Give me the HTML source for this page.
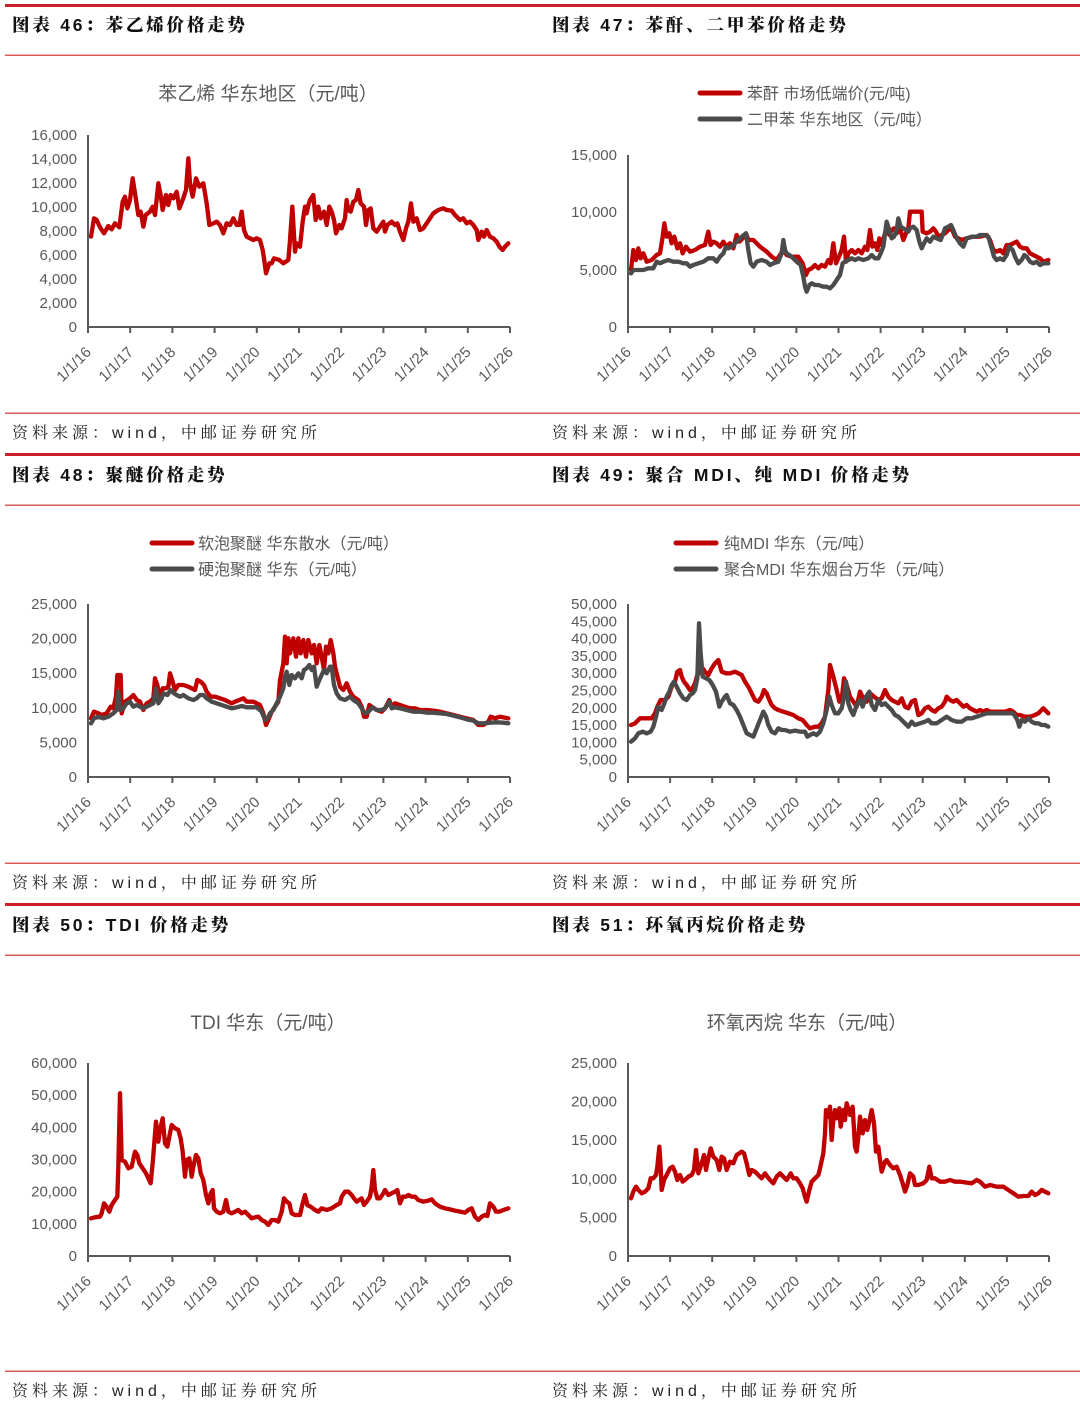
<!DOCTYPE html>
<html><head><meta charset="utf-8"><style>
html,body{margin:0;padding:0;background:#fff;}
svg{display:block;}
.h{font-family:"Liberation Sans","Noto Serif CJK SC",serif;font-weight:900;font-size:17.5px;letter-spacing:2.8px;fill:#111;}
.s{font-family:"Liberation Sans","Noto Serif CJK SC",serif;font-size:16px;letter-spacing:4px;fill:#222;}
.t{font-family:"Liberation Sans","Noto Sans CJK SC",sans-serif;font-size:19px;fill:#595959;}
.lg{font-family:"Liberation Sans","Noto Sans CJK SC",sans-serif;font-size:16px;fill:#595959;}
.yl{font-family:"Liberation Sans",sans-serif;font-size:15px;fill:#595959;text-anchor:end;}
.xl{font-family:"Liberation Sans",sans-serif;font-size:15px;fill:#595959;text-anchor:end;}
.ax{stroke:#595959;stroke-width:2;fill:none;}
.r{fill:none;stroke:#C00000;stroke-width:13;stroke-linejoin:round;stroke-linecap:round;}
.g{fill:none;stroke:#4B4B4B;stroke-width:13;stroke-linejoin:round;stroke-linecap:round;}
</style></head><body>
<svg width="1080" height="1412" viewBox="0 0 1080 1412" xmlns="http://www.w3.org/2000/svg">
<g>
<rect x="5" y="4" width="1075" height="3" fill="#CC1F2A"/>
<rect x="5" y="54.5" width="1075" height="1.5" fill="#D65C5C"/>
<rect x="5" y="412.5" width="1075" height="1.5" fill="#D65C5C"/>
<rect x="5" y="453" width="1075" height="3" fill="#CC1F2A"/>
<rect x="5" y="504.5" width="1075" height="1.5" fill="#D65C5C"/>
<rect x="5" y="862.5" width="1075" height="1.5" fill="#D65C5C"/>
<rect x="5" y="903" width="1075" height="3" fill="#CC1F2A"/>
<rect x="5" y="954.5" width="1075" height="1.5" fill="#D65C5C"/>
<rect x="5" y="1370.5" width="1075" height="1.5" fill="#D65C5C"/>
</g>
<text class="h" x="12" y="31">图表 46：苯乙烯价格走势</text>
<text class="h" x="552" y="31">图表 47：苯酐、二甲苯价格走势</text>
<text class="h" x="12" y="481">图表 48：聚醚价格走势</text>
<text class="h" x="552" y="481">图表 49：聚合 MDI、纯 MDI 价格走势</text>
<text class="h" x="12" y="931">图表 50：TDI 价格走势</text>
<text class="h" x="552" y="931">图表 51：环氧丙烷价格走势</text>
<text class="s" x="12" y="438">资料来源：wind，中邮证券研究所</text>
<text class="s" x="552" y="438">资料来源：wind，中邮证券研究所</text>
<text class="s" x="12" y="888">资料来源：wind，中邮证券研究所</text>
<text class="s" x="552" y="888">资料来源：wind，中邮证券研究所</text>
<text class="s" x="12" y="1396">资料来源：wind，中邮证券研究所</text>
<text class="s" x="552" y="1396">资料来源：wind，中邮证券研究所</text>

<!-- Chart 1 -->
<text class="t" x="268" y="100" text-anchor="middle">苯乙烯 华东地区（元/吨）</text>
<g class="yl">
<text x="77" y="332">0</text><text x="77" y="308">2,000</text><text x="77" y="284">4,000</text><text x="77" y="260">6,000</text><text x="77" y="236">8,000</text><text x="77" y="212">10,000</text><text x="77" y="188">12,000</text><text x="77" y="164">14,000</text><text x="77" y="140">16,000</text>
</g>
<g transform="translate(80,140) scale(0.333333)">
<polyline class="r" points="33,290 42,235 50,240 60,262 72,280 85,258 95,268 105,250 118,262 128,185 135,170 142,205 150,180 158,115 165,160 175,225 182,215 190,260 197,225 210,215 218,200 225,225 235,130 242,165 248,210 258,165 265,195 272,165 280,175 290,155 298,205 308,180 318,150 325,55 330,130 338,170 348,115 358,140 370,130 380,190 388,255 400,250 410,245 420,255 430,280 440,250 450,255 460,235 470,255 478,255 485,215 492,270 500,290 510,295 520,300 530,295 540,300 548,330 552,355 558,400 568,370 575,370 582,355 598,360 610,370 625,360 630,300 637,200 645,335 650,310 660,320 668,245 675,200 680,220 685,195 690,180 700,165 707,240 715,200 722,235 732,215 740,255 748,200 755,215 762,240 768,280 778,255 785,265 795,235 800,180 805,210 812,215 820,185 828,180 835,150 842,190 852,200 858,255 865,210 872,205 880,265 890,275 900,260 910,245 915,275 922,255 935,245 945,255 952,250 960,275 970,300 978,265 985,245 993,190 1000,245 1010,235 1020,270 1030,265 1040,250 1050,235 1060,220 1075,210 1090,205 1100,210 1115,212 1125,225 1140,240 1150,235 1160,250 1170,245 1180,255 1190,270 1195,300 1205,275 1212,290 1220,270 1230,290 1240,295 1250,305 1258,320 1268,330 1275,320 1285,310"/>
</g>
<path class="ax" d="M88,135 V327 H510 M88,327v6 M130.2,327v6 M172.4,327v6 M214.6,327v6 M256.8,327v6 M299,327v6 M341.2,327v6 M383.4,327v6 M425.6,327v6 M467.8,327v6 M510,327v6"/>
<g class="xl">
<text transform="translate(92,353) rotate(-45)">1/1/16</text>
<text transform="translate(134.2,353) rotate(-45)">1/1/17</text>
<text transform="translate(176.4,353) rotate(-45)">1/1/18</text>
<text transform="translate(218.6,353) rotate(-45)">1/1/19</text>
<text transform="translate(260.8,353) rotate(-45)">1/1/20</text>
<text transform="translate(303,353) rotate(-45)">1/1/21</text>
<text transform="translate(345.2,353) rotate(-45)">1/1/22</text>
<text transform="translate(387.4,353) rotate(-45)">1/1/23</text>
<text transform="translate(429.6,353) rotate(-45)">1/1/24</text>
<text transform="translate(471.8,353) rotate(-45)">1/1/25</text>
<text transform="translate(514,353) rotate(-45)">1/1/26</text>
</g>

<!-- Chart 2 -->
<line x1="700" y1="93" x2="740" y2="93" stroke="#C00000" stroke-width="5" stroke-linecap="round"/>
<line x1="700" y1="119" x2="740" y2="119" stroke="#4B4B4B" stroke-width="5" stroke-linecap="round"/>
<text class="lg" x="747" y="99">苯酐 市场低端价(元/吨)</text>
<text class="lg" x="747" y="125">二甲苯 华东地区（元/吨）</text>
<g class="yl">
<text x="617" y="332">0</text><text x="617" y="275">5,000</text><text x="617" y="217">10,000</text><text x="617" y="160">15,000</text>
</g>
<g transform="translate(620,200) scale(0.333333)">
<polyline class="r" points="33,210 40,150 48,180 55,145 62,175 70,160 80,185 95,180 110,165 120,160 128,110 133,70 140,110 148,100 155,130 163,110 172,145 180,130 188,160 198,140 210,155 225,150 240,140 255,135 265,95 272,135 280,125 290,130 300,140 310,125 318,140 330,130 340,145 350,105 358,125 368,115 378,100 385,120 400,120 420,140 440,155 455,170 470,180 490,150 500,165 515,170 535,170 548,190 558,225 565,210 575,205 585,195 595,205 605,195 615,200 625,180 632,190 640,130 648,190 655,175 665,150 672,110 678,185 685,160 695,150 705,160 715,150 725,160 735,140 742,150 750,90 757,140 765,130 772,150 778,115 785,135 795,100 800,80 808,105 815,90 822,85 830,100 840,85 850,120 858,100 865,85 870,35 905,35 908,95 920,100 930,95 940,85 948,95 955,110 965,105 975,100 985,90 995,85 1005,110 1015,115 1025,120 1040,115 1060,110 1080,110 1100,105 1110,120 1120,150 1130,155 1140,150 1150,160 1160,135 1170,135 1180,130 1190,125 1200,140 1210,145 1220,145 1230,160 1240,165 1250,170 1260,175 1270,185 1285,180"/>
<polyline class="g" points="33,220 40,210 55,210 70,210 85,205 100,205 110,185 120,190 130,185 145,180 160,185 175,185 190,190 200,190 210,200 220,195 235,190 250,185 265,175 280,175 290,185 300,170 310,160 318,140 325,145 335,140 345,130 355,120 365,110 378,100 385,150 392,190 400,200 410,185 425,180 440,185 450,195 460,190 475,185 485,160 490,120 495,150 500,160 515,170 530,185 542,195 550,230 555,260 560,275 568,255 575,250 585,255 595,255 610,260 620,260 630,265 640,255 650,240 660,225 668,190 675,185 685,180 695,175 705,180 715,175 730,180 745,175 755,165 765,175 775,175 782,160 790,140 800,65 808,90 815,115 822,110 830,90 835,55 842,80 850,85 858,90 865,95 870,85 880,80 890,90 898,125 905,145 912,130 920,115 930,125 940,110 950,115 962,120 968,105 975,85 985,80 993,75 1000,90 1010,115 1020,130 1030,140 1040,115 1055,110 1070,110 1080,105 1095,105 1105,110 1115,145 1122,170 1130,180 1140,175 1150,180 1160,165 1168,140 1178,150 1185,170 1195,190 1205,180 1213,165 1220,170 1230,185 1240,190 1250,185 1260,195 1270,190 1285,190"/>
</g>
<path class="ax" d="M628,155 V327 H1049 M628,327v6 M670.1,327v6 M712.2,327v6 M754.3,327v6 M796.4,327v6 M838.5,327v6 M880.6,327v6 M922.7,327v6 M964.8,327v6 M1006.9,327v6 M1049,327v6"/>
<g class="xl">
<text transform="translate(632,353) rotate(-45)">1/1/16</text>
<text transform="translate(674.1,353) rotate(-45)">1/1/17</text>
<text transform="translate(716.2,353) rotate(-45)">1/1/18</text>
<text transform="translate(758.3,353) rotate(-45)">1/1/19</text>
<text transform="translate(800.4,353) rotate(-45)">1/1/20</text>
<text transform="translate(842.5,353) rotate(-45)">1/1/21</text>
<text transform="translate(884.6,353) rotate(-45)">1/1/22</text>
<text transform="translate(926.7,353) rotate(-45)">1/1/23</text>
<text transform="translate(968.8,353) rotate(-45)">1/1/24</text>
<text transform="translate(1010.9,353) rotate(-45)">1/1/25</text>
<text transform="translate(1053,353) rotate(-45)">1/1/26</text>
</g>

<!-- Chart 3 -->
<line x1="152" y1="543" x2="192" y2="543" stroke="#C00000" stroke-width="5" stroke-linecap="round"/>
<line x1="152" y1="569" x2="192" y2="569" stroke="#4B4B4B" stroke-width="5" stroke-linecap="round"/>
<text class="lg" x="198" y="549">软泡聚醚 华东散水（元/吨）</text>
<text class="lg" x="198" y="575">硬泡聚醚 华东（元/吨）</text>
<g class="yl">
<text x="77" y="782">0</text><text x="77" y="747.4">5,000</text><text x="77" y="712.8">10,000</text><text x="77" y="678.2">15,000</text><text x="77" y="643.6">20,000</text><text x="77" y="609">25,000</text>
</g>
<g transform="translate(80,620) scale(0.333333)">
<polyline class="r" points="33,295 42,275 55,280 65,285 80,280 92,260 100,265 108,230 112,165 122,165 125,280 135,245 150,235 160,225 170,240 180,245 190,270 200,250 210,245 220,235 225,175 232,195 240,240 248,205 258,205 265,200 270,160 278,185 285,210 295,195 310,195 325,200 335,205 345,210 352,180 362,185 372,195 380,215 392,230 405,230 420,235 435,240 445,245 455,250 465,245 478,240 490,235 500,245 510,245 520,245 530,250 540,255 550,280 558,315 565,300 575,275 585,260 595,245 600,180 610,130 615,50 620,130 625,55 630,100 640,55 648,110 655,55 662,100 670,60 678,110 685,60 695,100 702,75 710,130 718,75 725,110 732,150 738,80 745,100 752,60 760,100 765,140 770,160 780,200 790,210 800,190 810,215 820,230 835,240 845,260 852,290 860,290 868,255 875,260 890,270 905,275 915,265 928,240 935,260 945,250 960,255 975,260 990,265 1005,265 1020,270 1040,270 1060,272 1080,275 1100,280 1120,285 1140,290 1160,295 1180,300 1195,315 1210,315 1225,305 1232,290 1245,295 1260,290 1270,292 1285,295"/>
<polyline class="g" points="33,310 42,295 55,290 70,295 85,290 100,280 110,270 115,215 120,270 130,265 140,250 150,245 160,260 170,255 180,260 190,265 200,260 210,255 220,250 228,205 235,250 245,235 250,220 262,225 272,210 282,220 290,225 300,230 310,225 325,235 340,240 350,235 360,225 370,225 380,235 395,245 410,250 425,255 440,260 455,265 470,262 485,258 500,262 515,262 530,262 545,275 555,300 562,295 570,280 580,270 590,250 600,230 610,205 615,170 620,155 628,195 635,165 645,175 655,160 665,175 672,150 680,145 688,135 695,150 702,140 710,200 718,180 725,165 732,150 740,160 750,140 755,140 762,195 770,220 780,235 795,240 810,230 820,240 835,250 845,265 855,280 865,275 878,262 890,270 905,270 915,265 928,245 935,265 945,262 960,265 980,270 1000,275 1020,275 1040,278 1060,278 1080,280 1100,282 1120,287 1140,292 1160,298 1180,302 1195,310 1210,310 1230,308 1250,307 1270,308 1285,310"/>
</g>
<path class="ax" d="M88,604 V777 H510 M88,777v6 M130.2,777v6 M172.4,777v6 M214.6,777v6 M256.8,777v6 M299,777v6 M341.2,777v6 M383.4,777v6 M425.6,777v6 M467.8,777v6 M510,777v6"/>
<g class="xl">
<text transform="translate(92,803) rotate(-45)">1/1/16</text>
<text transform="translate(134.2,803) rotate(-45)">1/1/17</text>
<text transform="translate(176.4,803) rotate(-45)">1/1/18</text>
<text transform="translate(218.6,803) rotate(-45)">1/1/19</text>
<text transform="translate(260.8,803) rotate(-45)">1/1/20</text>
<text transform="translate(303,803) rotate(-45)">1/1/21</text>
<text transform="translate(345.2,803) rotate(-45)">1/1/22</text>
<text transform="translate(387.4,803) rotate(-45)">1/1/23</text>
<text transform="translate(429.6,803) rotate(-45)">1/1/24</text>
<text transform="translate(471.8,803) rotate(-45)">1/1/25</text>
<text transform="translate(514,803) rotate(-45)">1/1/26</text>
</g>

<!-- Chart 4 -->
<line x1="676" y1="543" x2="716" y2="543" stroke="#C00000" stroke-width="5" stroke-linecap="round"/>
<line x1="676" y1="569" x2="716" y2="569" stroke="#4B4B4B" stroke-width="5" stroke-linecap="round"/>
<text class="lg" x="724" y="549">纯MDI 华东（元/吨）</text>
<text class="lg" x="724" y="575">聚合MDI 华东烟台万华（元/吨）</text>
<g class="yl">
<text x="617" y="782">0</text><text x="617" y="764.7">5,000</text><text x="617" y="747.4">10,000</text><text x="617" y="730.1">15,000</text><text x="617" y="712.8">20,000</text><text x="617" y="695.5">25,000</text><text x="617" y="678.2">30,000</text><text x="617" y="660.9">35,000</text><text x="617" y="643.6">40,000</text><text x="617" y="626.3">45,000</text><text x="617" y="609">50,000</text>
</g>
<g transform="translate(620,610) scale(0.333333)">
<polyline class="r" points="33,345 45,340 60,325 80,325 95,325 105,310 112,290 122,270 135,270 145,260 155,230 165,215 172,185 180,180 185,200 192,215 200,225 210,240 218,235 225,220 232,195 240,185 248,175 255,185 265,195 275,175 285,160 295,150 305,185 318,190 330,190 345,185 355,190 365,195 375,215 385,230 395,250 405,270 415,275 425,260 432,240 440,250 448,270 455,285 465,295 475,300 490,305 505,310 520,315 535,325 548,330 560,345 570,355 585,350 595,350 605,340 615,320 625,240 630,165 640,200 650,240 658,275 665,270 672,205 680,225 690,260 700,275 710,290 720,245 730,265 740,275 750,250 762,260 775,270 785,265 795,240 805,260 815,270 825,275 835,280 845,265 855,290 865,295 875,275 885,270 895,315 905,310 915,295 925,290 935,300 945,305 955,295 965,290 975,275 980,260 990,270 1000,275 1010,270 1020,280 1030,290 1040,285 1050,295 1060,300 1070,305 1080,300 1090,305 1100,300 1110,305 1125,305 1140,305 1155,305 1170,300 1180,305 1190,315 1200,315 1215,320 1230,320 1245,315 1255,310 1265,300 1270,295 1280,305 1285,310"/>
<polyline class="g" points="33,395 45,385 55,370 68,365 80,370 92,365 100,350 108,320 115,290 125,300 133,280 140,260 148,245 155,225 162,215 170,230 180,250 190,265 200,270 210,255 218,250 225,240 232,205 237,40 242,130 248,200 258,205 268,210 278,225 288,245 298,290 305,275 315,260 320,255 330,280 340,285 350,300 360,320 370,345 380,370 390,375 400,380 410,355 420,330 430,305 438,320 445,345 455,365 465,370 475,355 485,360 495,360 510,365 525,362 540,365 555,365 562,380 570,375 580,370 590,375 600,365 610,340 620,300 628,260 635,285 645,310 655,310 665,295 672,260 678,215 685,280 692,300 700,315 710,285 720,270 728,290 738,260 748,245 755,285 765,300 775,270 785,285 795,280 805,290 815,300 825,315 835,320 845,330 855,340 865,350 875,335 885,345 900,340 915,335 925,330 935,340 950,340 965,330 980,320 995,330 1010,335 1025,335 1040,325 1055,325 1070,320 1085,315 1100,310 1120,310 1140,310 1160,310 1180,310 1192,330 1198,350 1205,330 1215,335 1225,325 1235,335 1245,340 1255,340 1265,345 1275,345 1285,350"/>
</g>
<path class="ax" d="M628,604 V777 H1049 M628,777v6 M670.1,777v6 M712.2,777v6 M754.3,777v6 M796.4,777v6 M838.5,777v6 M880.6,777v6 M922.7,777v6 M964.8,777v6 M1006.9,777v6 M1049,777v6"/>
<g class="xl">
<text transform="translate(632,803) rotate(-45)">1/1/16</text>
<text transform="translate(674.1,803) rotate(-45)">1/1/17</text>
<text transform="translate(716.2,803) rotate(-45)">1/1/18</text>
<text transform="translate(758.3,803) rotate(-45)">1/1/19</text>
<text transform="translate(800.4,803) rotate(-45)">1/1/20</text>
<text transform="translate(842.5,803) rotate(-45)">1/1/21</text>
<text transform="translate(884.6,803) rotate(-45)">1/1/22</text>
<text transform="translate(926.7,803) rotate(-45)">1/1/23</text>
<text transform="translate(968.8,803) rotate(-45)">1/1/24</text>
<text transform="translate(1010.9,803) rotate(-45)">1/1/25</text>
<text transform="translate(1053,803) rotate(-45)">1/1/26</text>
</g>

<!-- Chart 5 -->
<text class="t" x="268" y="1029" text-anchor="middle">TDI 华东（元/吨）</text>
<g class="yl">
<text x="77" y="1261">0</text><text x="77" y="1228.8">10,000</text><text x="77" y="1196.7">20,000</text><text x="77" y="1164.5">30,000</text><text x="77" y="1132.3">40,000</text><text x="77" y="1100.2">50,000</text><text x="77" y="1068">60,000</text>
</g>
<g transform="translate(80,1080) scale(0.333333)">
<polyline class="r" points="33,415 45,412 60,410 65,400 72,370 80,380 88,395 95,375 105,360 112,350 115,260 120,40 125,240 135,245 145,265 155,260 165,215 172,225 178,250 188,265 198,280 205,295 212,310 218,250 222,200 228,125 235,185 240,150 248,115 255,190 262,200 268,170 275,135 285,145 295,150 302,175 308,215 315,290 320,240 328,235 335,290 340,260 348,225 355,235 362,280 370,300 378,345 385,370 392,340 398,330 402,385 410,395 420,400 430,395 438,360 445,395 455,400 465,395 475,390 485,400 495,395 505,405 515,415 525,412 535,410 545,420 555,425 565,435 575,420 585,420 595,425 605,395 612,355 620,365 628,370 635,400 645,405 660,405 668,370 675,345 682,375 692,380 705,390 715,395 725,385 740,390 755,385 770,375 780,370 785,350 795,335 805,335 815,345 822,355 830,365 845,355 852,375 860,365 870,350 875,320 880,270 885,330 892,355 900,355 910,340 915,330 925,345 935,340 945,335 952,330 960,370 968,350 978,350 985,345 995,350 1005,350 1015,360 1030,365 1045,362 1055,358 1065,370 1080,380 1095,385 1110,388 1125,392 1140,395 1155,398 1165,390 1175,385 1185,410 1195,420 1205,410 1215,405 1222,408 1230,370 1240,380 1248,395 1258,395 1270,390 1285,385"/>
</g>
<path class="ax" d="M88,1063 V1256 H510 M88,1256v6 M130.2,1256v6 M172.4,1256v6 M214.6,1256v6 M256.8,1256v6 M299,1256v6 M341.2,1256v6 M383.4,1256v6 M425.6,1256v6 M467.8,1256v6 M510,1256v6"/>
<g class="xl">
<text transform="translate(92,1282) rotate(-45)">1/1/16</text>
<text transform="translate(134.2,1282) rotate(-45)">1/1/17</text>
<text transform="translate(176.4,1282) rotate(-45)">1/1/18</text>
<text transform="translate(218.6,1282) rotate(-45)">1/1/19</text>
<text transform="translate(260.8,1282) rotate(-45)">1/1/20</text>
<text transform="translate(303,1282) rotate(-45)">1/1/21</text>
<text transform="translate(345.2,1282) rotate(-45)">1/1/22</text>
<text transform="translate(387.4,1282) rotate(-45)">1/1/23</text>
<text transform="translate(429.6,1282) rotate(-45)">1/1/24</text>
<text transform="translate(471.8,1282) rotate(-45)">1/1/25</text>
<text transform="translate(514,1282) rotate(-45)">1/1/26</text>
</g>

<!-- Chart 6 -->
<text class="t" x="807" y="1029" text-anchor="middle">环氧丙烷 华东（元/吨）</text>
<g class="yl">
<text x="617" y="1261">0</text><text x="617" y="1222.4">5,000</text><text x="617" y="1183.8">10,000</text><text x="617" y="1145.2">15,000</text><text x="617" y="1106.6">20,000</text><text x="617" y="1068">25,000</text>
</g>
<g transform="translate(620,1090) scale(0.333333)">
<polyline class="r" points="33,325 40,305 48,290 55,300 65,310 75,305 85,295 92,265 100,265 108,255 112,230 118,170 122,230 125,300 132,270 140,255 150,235 158,230 165,245 172,270 180,255 188,275 195,270 205,260 215,255 222,240 228,180 235,250 245,220 252,195 258,240 265,205 272,175 280,200 290,210 298,240 305,200 312,205 320,240 330,215 340,220 350,195 358,190 365,185 372,190 380,220 388,255 395,240 405,245 415,255 425,265 435,250 442,260 450,270 460,280 470,260 480,250 490,260 500,270 512,250 520,265 530,265 540,280 548,295 555,320 560,335 568,300 575,275 585,265 595,255 600,235 610,190 615,130 618,60 625,80 630,50 635,150 640,90 645,60 650,85 658,55 662,110 670,60 675,90 680,40 690,75 698,50 705,170 710,185 715,140 720,80 728,130 735,90 742,120 750,85 755,60 762,100 768,185 775,170 780,210 785,245 795,215 800,210 810,225 820,235 830,230 840,255 848,280 855,305 862,285 870,250 880,260 885,285 895,285 910,280 920,270 928,230 935,265 945,265 960,275 975,275 990,270 1005,275 1020,275 1040,278 1055,280 1070,270 1080,275 1095,290 1110,285 1130,290 1150,290 1165,300 1180,310 1195,320 1210,318 1225,318 1235,305 1245,315 1255,310 1265,300 1275,305 1285,310"/>
</g>
<path class="ax" d="M628,1063 V1256 H1049 M628,1256v6 M670.1,1256v6 M712.2,1256v6 M754.3,1256v6 M796.4,1256v6 M838.5,1256v6 M880.6,1256v6 M922.7,1256v6 M964.8,1256v6 M1006.9,1256v6 M1049,1256v6"/>
<g class="xl">
<text transform="translate(632,1282) rotate(-45)">1/1/16</text>
<text transform="translate(674.1,1282) rotate(-45)">1/1/17</text>
<text transform="translate(716.2,1282) rotate(-45)">1/1/18</text>
<text transform="translate(758.3,1282) rotate(-45)">1/1/19</text>
<text transform="translate(800.4,1282) rotate(-45)">1/1/20</text>
<text transform="translate(842.5,1282) rotate(-45)">1/1/21</text>
<text transform="translate(884.6,1282) rotate(-45)">1/1/22</text>
<text transform="translate(926.7,1282) rotate(-45)">1/1/23</text>
<text transform="translate(968.8,1282) rotate(-45)">1/1/24</text>
<text transform="translate(1010.9,1282) rotate(-45)">1/1/25</text>
<text transform="translate(1053,1282) rotate(-45)">1/1/26</text>
</g>
</svg>
</body></html>
